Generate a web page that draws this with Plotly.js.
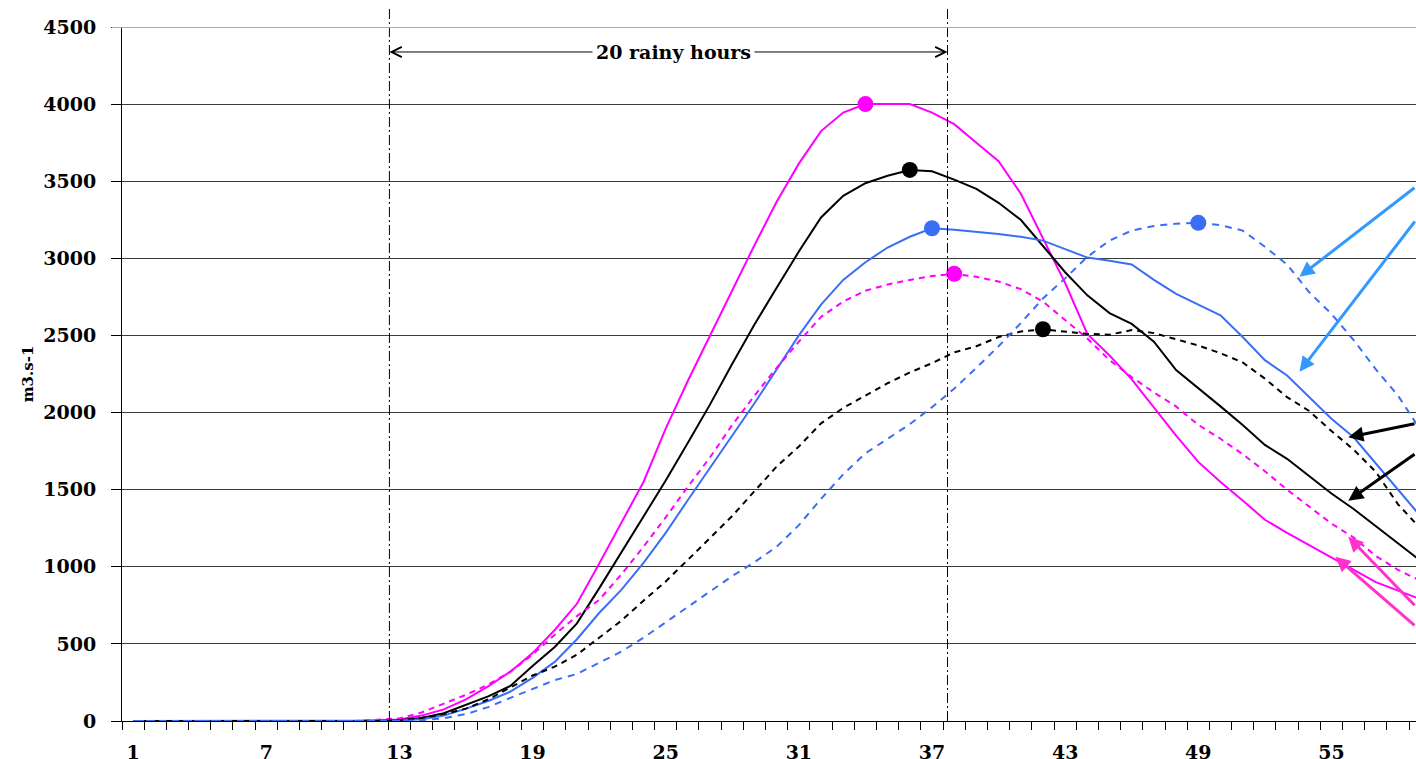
<!DOCTYPE html>
<html><head><meta charset="utf-8">
<script src="https://cdn.plot.ly/plotly-3.0.1.min.js"></script>
<style>html,body{margin:0;padding:0;background:#fff;overflow:hidden}#chart{width:1416px;height:759px}</style>
</head><body><div id="chart"></div>
<script>
// hours (categories)
const hours = [1,2,3,4,5,6,7,8,9,10,11,12,13,14,15,16,17,18,19,20,21,22,23,24,25,26,27,28,29,30,
  31,32,33,34,35,36,37,38,39,40,41,42,43,44,45,46,47,48,49,50,51,52,53,54,55,56,57,58,59];
const xTickVals = [1,7,13,19,25,31,37,43,49,55];
const xTickText = ['1','7','13','19','25','31','37','43','49','55'];
const yTickVals = [0,500,1000,1500,2000,2500,3000,3500,4000,4500];

// discharge series (m3.s-1)
const magentaSolid = [0,0,0,0,0,0,0,0,0,0,0,5,10,35,75,140,225,320,440,590,
  760,1020,1280,1550,1896,2206,2500,2794,3085,3367,3614,3825,3945,4000,4000,4000,3945,3870,3750,3630,
  3420,3130,2840,2510,2370,2215,2030,1850,1680,1550,1430,1305,1220,1140,1055,980,900,845,790];
const blackSolid = [0,0,0,0,0,0,0,0,0,0,0,0,5,20,50,105,160,227,357,480,
  633,860,1095,1330,1559,1804,2053,2316,2571,2809,3044,3265,3405,3487,3535,3573,3565,3510,3450,3360,
  3250,3080,2910,2760,2645,2575,2460,2275,2160,2040,1920,1790,1700,1585,1475,1375,1265,1155,1040];
const blueSolid = [0,0,0,0,0,0,0,0,0,0,0,0,3,12,35,80,130,190,280,383,
  530,700,850,1025,1220,1433,1640,1850,2060,2280,2500,2700,2860,2975,3070,3140,3195,3185,3173,3158,
  3140,3115,3060,3005,2985,2960,2860,2770,2700,2630,2490,2340,2240,2100,1960,1840,1670,1500,1330];
const magentaDashed = [0,0,0,0,0,0,0,0,0,0,0,8,17,55,110,170,235,320,430,560,
  680,785,950,1130,1320,1520,1710,1920,2110,2290,2460,2620,2720,2790,2830,2860,2885,2900,2880,2850,
  2800,2720,2600,2480,2340,2230,2130,2040,1920,1830,1730,1620,1500,1390,1280,1190,1070,980,910];
const blackDashed = [0,0,0,0,0,0,0,0,0,0,0,0,5,20,45,80,140,220,295,352,
  430,540,650,780,905,1045,1185,1330,1490,1650,1780,1930,2030,2110,2190,2260,2320,2390,2430,2490,
  2525,2540,2525,2510,2505,2535,2515,2475,2435,2385,2325,2220,2100,2010,1880,1760,1615,1405,1250];
const blueDashed = [0,0,0,0,0,0,0,0,0,0,0,0,0,5,18,45,90,150,210,265,
  305,380,450,540,640,740,845,940,1030,1130,1270,1440,1600,1735,1830,1925,2035,2155,2290,2430,
  2580,2740,2870,3010,3115,3180,3210,3225,3230,3215,3180,3075,2960,2780,2640,2470,2280,2110,1890];

const MAGENTA = '#FF00FF', BLACK = '#000000', BLUE = '#3A6EF5';
const seriesDefs = [
  {name:'Magenta solid', y:magentaSolid, color:MAGENTA, dash:'solid'},
  {name:'Black solid', y:blackSolid, color:BLACK, dash:'solid'},
  {name:'Blue solid', y:blueSolid, color:BLUE, dash:'solid'},
  {name:'Magenta dashed', y:magentaDashed, color:MAGENTA, dash:'6px,5px'},
  {name:'Black dashed', y:blackDashed, color:BLACK, dash:'6px,5px'},
  {name:'Blue dashed', y:blueDashed, color:BLUE, dash:'7px,6px'}
];

function peakIndex(arr){ let m=0; arr.forEach((v,i)=>{ if(v>arr[m]) m=i; }); return m; }

const traces = [];
seriesDefs.forEach(s=>{
  traces.push({type:'scatter', mode:'lines', name:s.name, x:hours, y:s.y,
    line:{color:s.color, width:2, dash:s.dash}, hoverinfo:'x+y'});
});
seriesDefs.forEach(s=>{
  const p = peakIndex(s.y);
  traces.push({type:'scatter', mode:'markers', name:s.name+' peak', x:[hours[p]], y:[s.y[p]],
    marker:{color:s.color, size:16}, showlegend:false});
});

// rainfall window annotation
const rainStart = 12.55, rainEnd = 37.7, rainLabelX = 25.35, rainLabelY = 4338;
const rainLabel = '20 rainy hours';
const FONT = 'DejaVu Serif';

const annotations = [
  {x:rainStart, y:rainLabelY, ax:rainLabelX, ay:rainLabelY, xref:'x', yref:'y', axref:'x', ayref:'y',
   text:' ', showarrow:true, arrowhead:5, arrowsize:2, arrowwidth:1, arrowcolor:'#000', standoff:0},
  {x:rainEnd, y:rainLabelY, ax:rainLabelX, ay:rainLabelY, xref:'x', yref:'y', axref:'x', ayref:'y',
   text:' ', showarrow:true, arrowhead:5, arrowsize:2, arrowwidth:1, arrowcolor:'#000', standoff:0},
  {x:rainLabelX, y:rainLabelY, xref:'x', yref:'y', text:rainLabel, showarrow:false,
   bgcolor:'#ffffff', borderpad:3, font:{family:FONT, size:19, weight:'bold', color:'#000'}}
];
// pointer arrows coming from the (cropped) legend on the right
const pointerArrows = [
  {hx:53.56, hy:2881, tx:58.81, ty:3465, c:'#3399FF'},
  {hx:53.56, hy:2265, tx:58.81, ty:3249, c:'#3399FF'},
  {hx:55.76, hy:1840, tx:58.81, ty:1930, c:'#000000'},
  {hx:55.76, hy:1428, tx:58.81, ty:1736, c:'#000000'},
  {hx:55.76, hy:1195, tx:58.81, ty:741, c:'#FF33CC'},
  {hx:55.18, hy:1065, tx:58.81, ty:611, c:'#FF33CC'}
];
pointerArrows.forEach(a=>{
  annotations.push({x:a.hx, y:a.hy, ax:a.tx, ay:a.ty, xref:'x', yref:'y', axref:'x', ayref:'y',
    text:'', showarrow:true, arrowhead:2, arrowsize:1, arrowwidth:3, arrowcolor:a.c, standoff:0});
});

const shapes = [
  {type:'line', xref:'x', yref:'paper', x0:rainStart, x1:rainStart, y0:0, y1:1.026,
   line:{color:'#000', width:1, dash:'10px,3px,2px,3px'}},
  {type:'line', xref:'x', yref:'paper', x0:rainEnd, x1:rainEnd, y0:0, y1:1.026,
   line:{color:'#000', width:1, dash:'10px,3px,2px,3px'}},
  {type:'line', xref:'paper', yref:'y', x0:-0.008, x1:1, y0:4500, y1:4500, layer:'above',
   line:{color:'#a8a8a8', width:2}}
];

const layout = {
  width:1416, height:759,
  margin:{l:122, r:0, t:27, b:38, pad:0},
  paper_bgcolor:'#ffffff', plot_bgcolor:'#ffffff',
  showlegend:false,
  font:{family:FONT, size:19, color:'#000', weight:'bold'},
  xaxis:{type:'linear', range:[0.5,58.81], tickmode:'array', tickvals:xTickVals, ticktext:xTickText,
    ticks:'', showgrid:false, zeroline:false, showline:true, linecolor:'#000', linewidth:1,
    ticklabelstandoff:14, tickfont:{family:FONT, size:19, weight:'bold'},
    minor:{tickmode:'linear', tick0:0.5, dtick:1, ticks:'outside', ticklen:8, tickwidth:1, tickcolor:'#000', showgrid:false}},
  yaxis:{range:[0,4500], tickmode:'array', tickvals:yTickVals, ticks:'outside', ticklen:10, tickwidth:1,
    tickcolor:'#000', showgrid:true, gridcolor:'#3a3a3a', gridwidth:1, zeroline:false,
    showline:true, linecolor:'#000', linewidth:1, ticklabelstandoff:11,
    tickfont:{family:FONT, size:19, weight:'bold'},
    title:{text:'m3.s-1', font:{family:FONT, size:15, weight:'bold'}, standoff:6}},
  annotations:annotations, shapes:shapes
};

Plotly.newPlot('chart', traces, layout, {displayModeBar:false, staticPlot:true});
</script></body></html>
